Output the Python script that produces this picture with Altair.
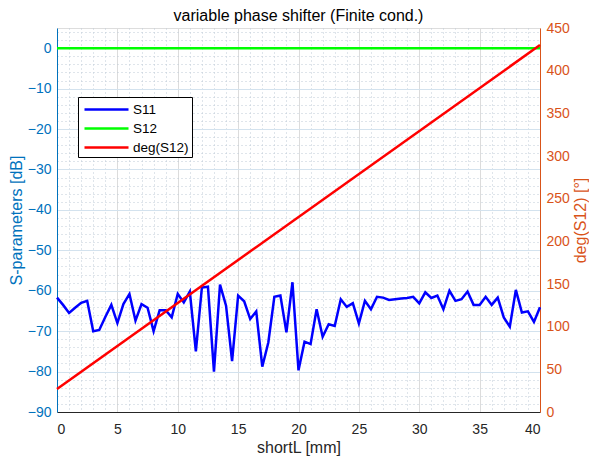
import altair as alt
import pandas as pd

# ---- data ----
x_s11 = [i * 0.5 for i in range(81)]
s11 = [-61.7, -63.5, -65.5, -64.2, -63.0, -62.5, -70.0, -69.7, -66.5, -63.5,
       -68.0, -63.3, -60.8, -67.4, -63.3, -64.2, -70.0, -64.8, -64.8, -66.6,
       -60.8, -62.9, -60.2, -75.0, -59.2, -59.0, -80.0, -58.5, -63.7, -77.4,
       -61.2, -62.6, -67.0, -65.1, -78.8, -72.8, -61.5, -61.2, -70.3, -57.9,
       -79.7, -72.6, -73.2, -64.6, -71.4, -68.3, -68.7, -62.1, -64.0, -63.1,
       -68.1, -62.5, -64.6, -61.5, -61.7, -62.3, -62.1, -61.9, -61.8, -61.5,
       -63.1, -60.4, -61.8, -61.2, -64.6, -60.0, -62.5, -62.1, -60.2, -63.5,
       -63.5, -61.5, -63.5, -61.7, -66.6, -68.9, -59.8, -65.4, -65.1, -67.7,
       -64.1]
x_s12 = [0, 40]
s12 = [0.0, 0.0]
x_deg = [0, 40]
deg = [27, 430]

series = ["S11", "S12", "deg(S12)"]
colors = ["#0000FF", "#00FF00", "#FF0000"]

x_values = list(range(0, 41))            # major every 5, minor every 1
y_left_values = list(range(-90, 5, 2))   # major every 10, minor every 2
y_right_values = list(range(0, 451, 50))

FONT = "Liberation Sans"
BLUE = "#0072BD"
ORANGE = "#D95319"
DARK = "#262626"

df_left = pd.concat([
    pd.DataFrame({"x": x_s11, "v": s11, "series": "S11"}),
    pd.DataFrame({"x": x_s12, "v": s12, "series": "S12"}),
])
df_right = pd.DataFrame({"x": x_deg, "d": deg, "series": "deg(S12)"})

x_axis = alt.Axis(
    values=x_values,
    labelExpr="datum.value % 5 === 0 ? datum.label : ''",
    title="shortL [mm]",
    ticks=False,
    grid=True,
    gridDash={"condition": {"test": "datum.value % 5 !== 0", "value": [1, 3]}, "value": []},
    gridColor={"condition": {"test": "datum.value % 5 !== 0", "value": "#bfcbd6"}, "value": "#dcdcdc"},
    domainColor=DARK,
    labelColor=DARK,
    titleColor=DARK,
    labelFontSize=14,
    titleFontSize=16,
    labelPadding=10,
    titlePadding=3,
    labelFont=FONT,
    titleFont=FONT,
    titleFontWeight="normal",
    labelOverlap=False,
)
x_enc = alt.X("x:Q", scale=alt.Scale(domain=[0, 40], nice=False, zero=False), axis=x_axis)

color_enc = alt.Color(
    "series:N",
    scale=alt.Scale(domain=series, range=colors),
    legend=alt.Legend(
        orient="none", legendX=21, legendY=69, title=None,
        symbolType="M-2.75,0H2.75", symbolSize=256, symbolStrokeWidth=2.5,
        symbolOffset=16, labelOffset=17, labelFontSize=13.5, labelFont=FONT,
        labelColor="black", padding=3, rowPadding=3,
        strokeColor="black", fillColor="white", cornerRadius=0,
    ),
)

left = alt.Chart(df_left).mark_line(strokeWidth=2.5).encode(
    x=x_enc,
    y=alt.Y("v:Q", scale=alt.Scale(domain=[-90, 5], nice=False, zero=False),
            axis=alt.Axis(
                values=y_left_values,
                labelExpr="datum.value % 10 === 0 ? datum.label : ''",
                title="S-parameters [dB]",
                orient="left",
                ticks=False,
                grid=True,
                gridDash={"condition": {"test": "datum.value % 10 !== 0", "value": [1, 3]}, "value": []},
                gridColor={"condition": {"test": "datum.value % 10 !== 0", "value": "#bfcbd6"}, "value": "#d3e2ee"},
                domainColor=BLUE, labelColor=BLUE, titleColor=BLUE,
                labelFontSize=14, titleFontSize=16, labelPadding=6, titlePadding=3,
                labelFont=FONT, titleFont=FONT, titleFontWeight="normal",
                labelOverlap=False,
            )),
    color=color_enc,
    detail="series:N",
)

right = alt.Chart(df_right).mark_line(strokeWidth=2.5).encode(
    x=x_enc,
    y=alt.Y("d:Q", scale=alt.Scale(domain=[0, 450], nice=False, zero=True),
            axis=alt.Axis(
                values=y_right_values,
                title="deg(S12) [°]",
                orient="right",
                titleAngle=270,
                titleBaseline="top",
                ticks=False,
                grid=False,
                domainColor=ORANGE, labelColor=ORANGE, titleColor=ORANGE,
                labelFontSize=14, titleFontSize=16, labelPadding=6, titlePadding=3,
                labelFont=FONT, titleFont=FONT, titleFontWeight="normal",
            )),
    color=color_enc,
)

chart = alt.layer(left, right).resolve_scale(y="independent").properties(
    width=483,
    height=384,
    title=alt.TitleParams("variable phase shifter (Finite cond.)", fontSize=16,
                          font=FONT, fontWeight="normal", color="black",
                          frame="group", offset=6, dy=9),
    autosize=alt.AutoSizeParams(type="none"),
    padding={"left": 49, "top": 20, "right": 49, "bottom": 44},
).configure_view(stroke=DARK, strokeWidth=1).configure(background="white")

chart.save("out.html", embed_options={"renderer": "svg", "actions": False})
